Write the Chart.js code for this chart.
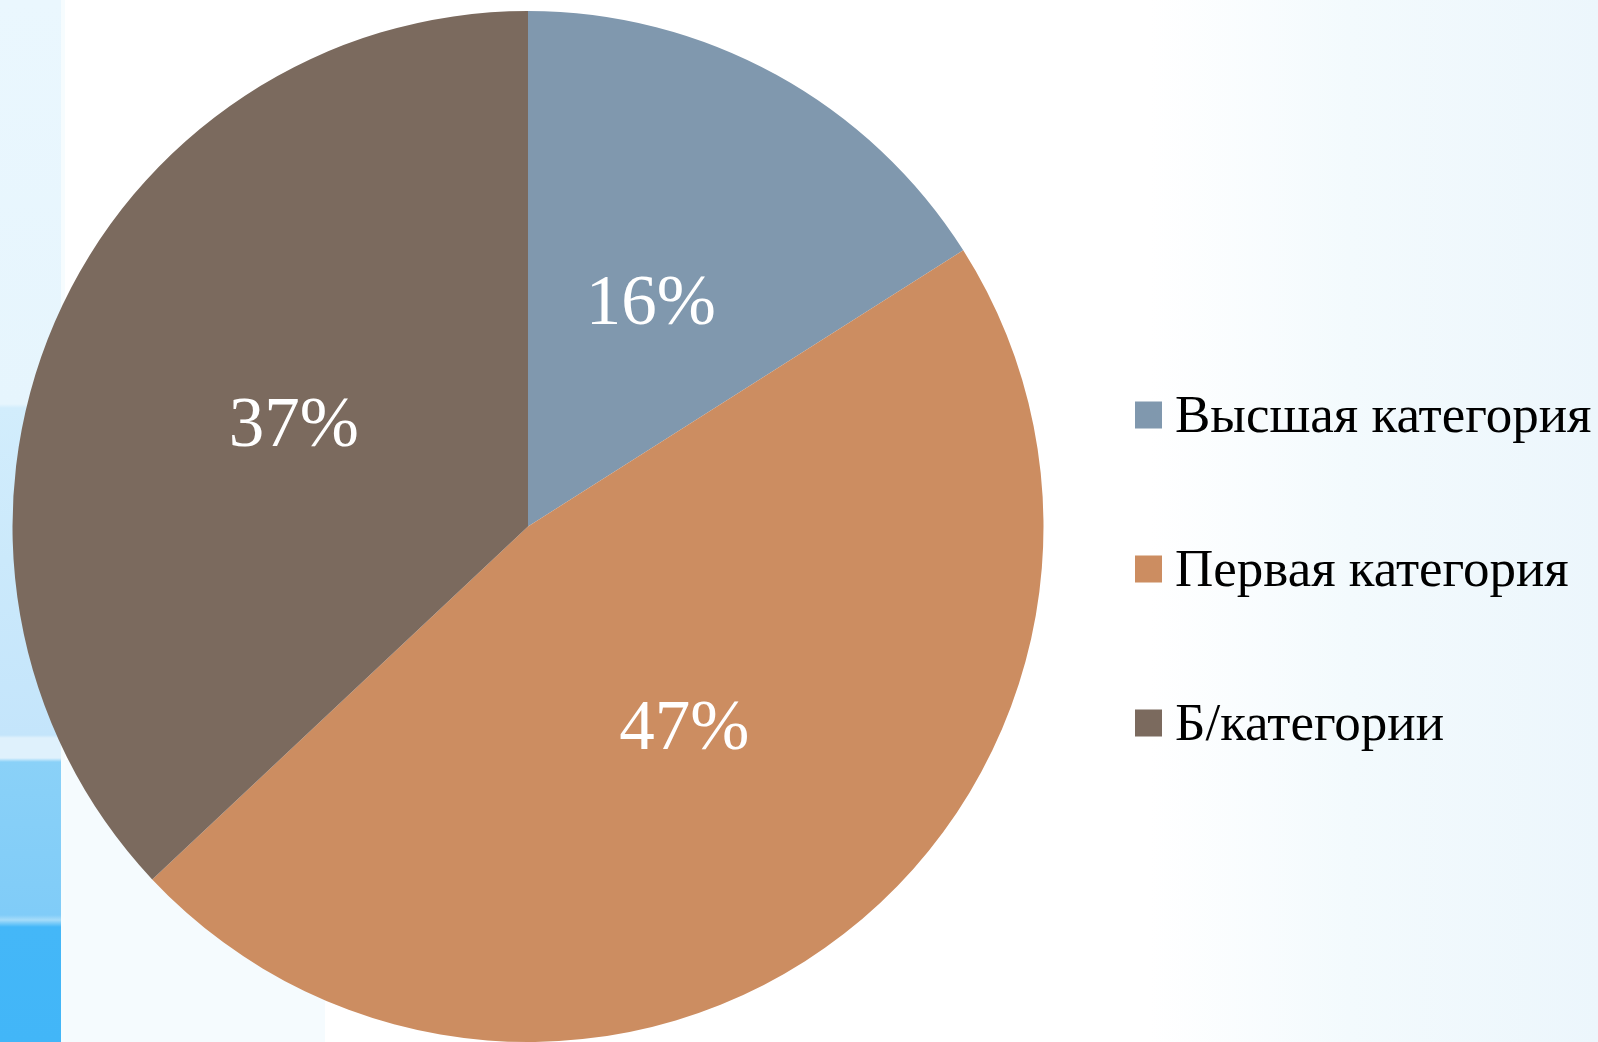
<!DOCTYPE html>
<html>
<head>
<meta charset="utf-8">
<script src="https://cdn.jsdelivr.net/npm/chart.js@4"></script>
<style>
  html, body { margin:0; padding:0; width:1598px; height:1042px; overflow:hidden; }
  body {
    background: linear-gradient(to right, #ffffff 0px, #ffffff 1150px, #f3fafd 1350px, #ecf6fc 1598px);
    position: relative;
  }
  #strip {
    position:absolute; left:0; top:0; width:61px; height:1042px;
    background: linear-gradient(to bottom,
      #eaf7fe 0px, #e6f5fd 404px, #d2edfc 408px, #cbe9fb 560px, #c4e5fb 735px,
      #dff1fc 738px, #dff1fc 758px, #8ad1f8 762px, #80ccf8 915px, #a6dcf9 920px,
      #44b7f8 927px, #42b6f8 1042px);
  }
  #strip2 {
    position:absolute; left:61px; top:0; width:4px; height:1042px;
    background: #f6fcfe;
  }
  #tint {
    position:absolute; left:65px; top:760px; width:260px; height:282px;
    background: #f5fbfe;
  }
  #wrap { position:absolute; left:0; top:0; width:1598px; height:1042px; }
</style>
</head>
<body>
<div id="strip"></div>
<div id="strip2"></div>
<div id="tint"></div>
<div id="wrap"><canvas id="c" width="1598" height="1042"></canvas></div>
<script>
const categories = ["Высшая категория", "Первая категория", "Б/категории"];
const values = [16, 47, 37];
const colors = ["#8098ae", "#cc8d61", "#7b6a5e"];

const pctLabels = {
  id: 'pctLabels',
  afterDatasetsDraw(chart) {
    const ctx = chart.ctx;
    const meta = chart.getDatasetMeta(0);
    const total = values.reduce((a, b) => a + b, 0);
    ctx.save();
    ctx.fillStyle = '#ffffff';
    ctx.font = '71px "Liberation Serif", "Times New Roman", serif';
    ctx.textAlign = 'center';
    ctx.textBaseline = 'middle';
    meta.data.forEach((arc, i) => {
      const p = arc.getProps(['x', 'y', 'startAngle', 'endAngle', 'outerRadius'], true);
      const mid = (p.startAngle + p.endAngle) / 2;
      const r = p.outerRadius * 0.495;
      const x = p.x + Math.cos(mid) * r;
      const y = p.y + Math.sin(mid) * r;
      ctx.fillText(Math.round(values[i] / total * 100) + '%', x, y + 2);
    });
    ctx.restore();
  }
};

const sideLegend = {
  id: 'sideLegend',
  afterDraw(chart) {
    const ctx = chart.ctx;
    const x0 = 1135, box = 27, textX = 1175;
    const ys = [415, 569, 723];
    ctx.save();
    ctx.font = '53px "Liberation Serif", "Times New Roman", serif';
    ctx.textBaseline = 'middle';
    ctx.textAlign = 'left';
    chart.data.labels.forEach((lab, i) => {
      ctx.fillStyle = chart.data.datasets[0].backgroundColor[i];
      ctx.fillRect(x0, ys[i] - box / 2, box, box);
      ctx.fillStyle = '#000000';
      ctx.fillText(lab, textX, ys[i] + 3);
    });
    ctx.restore();
  }
};

new Chart(document.getElementById('c'), {
  type: 'pie',
  data: {
    labels: categories,
    datasets: [{
      data: values,
      backgroundColor: colors,
      borderWidth: 0
    }]
  },
  options: {
    responsive: false,
    animation: false,
    layout: { padding: { left: 12, top: 11, right: 554, bottom: 0 } },
    plugins: {
      legend: { display: false },
      tooltip: { enabled: false }
    }
  },
  plugins: [pctLabels, sideLegend]
});
</script>
</body>
</html>
